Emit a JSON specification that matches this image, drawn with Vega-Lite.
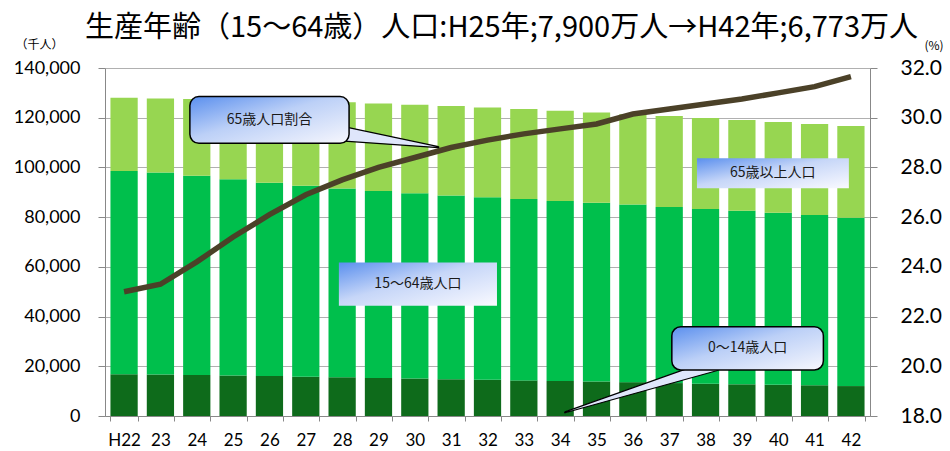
{
  "$schema": "https://vega.github.io/schema/vega-lite/v6.json",
  "width": 765,
  "height": 348,
  "autosize": "none",
  "padding": {"left": 105, "top": 68, "right": 80, "bottom": 35},
  "background": "white",
  "title": {
    "text": "生産年齢（15～64歳）人口:H25年;7,900万人→H42年;6,773万人",
    "font": "Noto Sans CJK JP",
    "fontSize": 29,
    "fontWeight": "normal",
    "color": "black",
    "anchor": "middle",
    "dx": 14,
    "offset": -5
  },
  "config": {
    "view": {"stroke": null},
    "axis": {"domainColor": "#888888", "tickColor": "#888888", "gridColor": "#b0b0b0", "labelColor": "black", "labelFont": "Lato", "titleColor": "black"}
  },
  "datasets": {
    "pop": [
      {"year": "H22", "group": "0～14歳人口", "o": 1, "v": 16839},
      {"year": "H22", "group": "15～64歳人口", "o": 2, "v": 81735},
      {"year": "H22", "group": "65歳以上人口", "o": 3, "v": 29484},
      {"year": "23", "group": "0～14歳人口", "o": 1, "v": 16685},
      {"year": "23", "group": "15～64歳人口", "o": 2, "v": 81303},
      {"year": "23", "group": "65歳以上人口", "o": 3, "v": 29764},
      {"year": "24", "group": "0～14歳人口", "o": 1, "v": 16493},
      {"year": "24", "group": "15～64歳人口", "o": 2, "v": 80173},
      {"year": "24", "group": "65歳以上人口", "o": 3, "v": 30831},
      {"year": "25", "group": "0～14歳人口", "o": 1, "v": 16281},
      {"year": "25", "group": "15～64歳人口", "o": 2, "v": 79010},
      {"year": "25", "group": "65歳以上人口", "o": 3, "v": 31947},
      {"year": "26", "group": "0～14歳人口", "o": 1, "v": 16067},
      {"year": "26", "group": "15～64歳人口", "o": 2, "v": 77803},
      {"year": "26", "group": "65歳以上人口", "o": 3, "v": 33080},
      {"year": "27", "group": "0～14歳人口", "o": 1, "v": 15827},
      {"year": "27", "group": "15～64歳人口", "o": 2, "v": 76818},
      {"year": "27", "group": "65歳以上人口", "o": 3, "v": 33952},
      {"year": "28", "group": "0～14歳人口", "o": 1, "v": 15574},
      {"year": "28", "group": "15～64歳人口", "o": 2, "v": 75979},
      {"year": "28", "group": "65歳以上人口", "o": 3, "v": 34640},
      {"year": "29", "group": "0～14歳人口", "o": 1, "v": 15311},
      {"year": "29", "group": "15～64歳人口", "o": 2, "v": 75245},
      {"year": "29", "group": "65歳以上人口", "o": 3, "v": 35183},
      {"year": "30", "group": "0～14歳人口", "o": 1, "v": 15056},
      {"year": "30", "group": "15～64歳人口", "o": 2, "v": 74584},
      {"year": "30", "group": "65歳以上人口", "o": 3, "v": 35596},
      {"year": "31", "group": "0～14歳人口", "o": 1, "v": 14804},
      {"year": "31", "group": "15～64歳人口", "o": 2, "v": 73950},
      {"year": "31", "group": "65歳以上人口", "o": 3, "v": 35935},
      {"year": "32", "group": "0～14歳人口", "o": 1, "v": 14568},
      {"year": "32", "group": "15～64歳人口", "o": 2, "v": 73408},
      {"year": "32", "group": "65歳以上人口", "o": 3, "v": 36124},
      {"year": "33", "group": "0～14歳人口", "o": 1, "v": 14318},
      {"year": "33", "group": "15～64歳人口", "o": 2, "v": 72946},
      {"year": "33", "group": "65歳以上人口", "o": 3, "v": 36210},
      {"year": "34", "group": "0～14歳人口", "o": 1, "v": 14081},
      {"year": "34", "group": "15～64歳人口", "o": 2, "v": 72461},
      {"year": "34", "group": "65歳以上人口", "o": 3, "v": 36271},
      {"year": "35", "group": "0～14歳人口", "o": 1, "v": 13848},
      {"year": "35", "group": "15～64歳人口", "o": 2, "v": 71954},
      {"year": "35", "group": "65歳以上人口", "o": 3, "v": 36320},
      {"year": "36", "group": "0～14歳人口", "o": 1, "v": 13614},
      {"year": "36", "group": "15～64歳人口", "o": 2, "v": 71430},
      {"year": "36", "group": "65歳以上人口", "o": 3, "v": 36359},
      {"year": "37", "group": "0～14歳人口", "o": 1, "v": 13240},
      {"year": "37", "group": "15～64歳人口", "o": 2, "v": 70845},
      {"year": "37", "group": "65歳以上人口", "o": 3, "v": 36573},
      {"year": "38", "group": "0～14歳人口", "o": 1, "v": 12986},
      {"year": "38", "group": "15～64歳人口", "o": 2, "v": 70314},
      {"year": "38", "group": "65歳以上人口", "o": 3, "v": 36591},
      {"year": "39", "group": "0～14歳人口", "o": 1, "v": 12755},
      {"year": "39", "group": "15～64歳人口", "o": 2, "v": 69774},
      {"year": "39", "group": "65歳以上人口", "o": 3, "v": 36573},
      {"year": "40", "group": "0～14歳人口", "o": 1, "v": 12549},
      {"year": "40", "group": "15～64歳人口", "o": 2, "v": 69183},
      {"year": "40", "group": "65歳以上人口", "o": 3, "v": 36561},
      {"year": "41", "group": "0～14歳人口", "o": 1, "v": 12371},
      {"year": "41", "group": "15～64歳人口", "o": 2, "v": 68459},
      {"year": "41", "group": "65歳以上人口", "o": 3, "v": 36635},
      {"year": "42", "group": "0～14歳人口", "o": 1, "v": 12039},
      {"year": "42", "group": "15～64歳人口", "o": 2, "v": 67730},
      {"year": "42", "group": "65歳以上人口", "o": 3, "v": 36849}
    ],
    "ratio": [
      {"year": "H22", "r": 23.0}, {"year": "23", "r": 23.3}, {"year": "24", "r": 24.2},
      {"year": "25", "r": 25.2}, {"year": "26", "r": 26.1}, {"year": "27", "r": 26.9},
      {"year": "28", "r": 27.5}, {"year": "29", "r": 28.0}, {"year": "30", "r": 28.4},
      {"year": "31", "r": 28.8}, {"year": "32", "r": 29.1}, {"year": "33", "r": 29.35},
      {"year": "34", "r": 29.55}, {"year": "35", "r": 29.75}, {"year": "36", "r": 30.15},
      {"year": "37", "r": 30.35}, {"year": "38", "r": 30.55}, {"year": "39", "r": 30.75},
      {"year": "40", "r": 31.0}, {"year": "41", "r": 31.25}, {"year": "42", "r": 31.65}
    ],
    "notes": [
      {"label": "65歳人口割合", "kind": "round", "x": 2.33, "x2": 6.7, "y": 128500, "y2": 109700, "tx": 4.515, "ty": 119100},
      {"label": "65歳以上人口", "kind": "flat", "x": 16.25, "x2": 20.42, "y": 103700, "y2": 91600, "tx": 18.33, "ty": 97650},
      {"label": "15～64歳人口", "kind": "flat", "x": 6.42, "x2": 10.76, "y": 61800, "y2": 44400, "tx": 8.59, "ty": 53100},
      {"label": "0～14歳人口", "kind": "round", "x": 15.56, "x2": 19.72, "y": 35900, "y2": 18500, "tx": 17.64, "ty": 27200}
    ],
    "ptr": [
      {"id": "a", "x": 6.4, "y": 113800, "s": 15},
      {"id": "a", "x": 9.15, "y": 108200, "s": 1},
      {"id": "b", "x": 16.74, "y": 20500, "s": 12},
      {"id": "b", "x": 12.63, "y": 1490, "s": 1}
    ]
  },
  "layer": [
    {
      "data": {"name": "pop"},
      "mark": {"type": "bar"},
      "encoding": {
        "x": {
          "field": "year", "type": "ordinal", "sort": null,
          "scale": {"type": "band", "paddingInner": 0.25, "paddingOuter": 0.15},
          "axis": {"title": null, "labelAngle": 0, "labelFontSize": 17, "tickBand": "extent", "tickSize": 5, "labelPadding": 11}
        },
        "y": {
          "field": "v", "type": "quantitative", "stack": "zero",
          "scale": {"domain": [0, 140000], "nice": false},
          "axis": {
            "orient": "left", "values": [0, 20000, 40000, 60000, 80000, 100000, 120000, 140000],
            "format": ",.0f", "grid": true, "labelFontSize": 18, "tickSize": 7, "labelPadding": 18,
            "title": "（千人）", "titleAngle": 0, "titleFont": "Noto Sans CJK JP", "titleFontSize": 12,
            "titleFontWeight": "normal", "titleX": -90, "titleY": -24, "titleAlign": "left", "titleBaseline": "middle"
          }
        },
        "color": {
          "field": "group", "type": "nominal", "legend": null,
          "scale": {"domain": ["0～14歳人口", "15～64歳人口", "65歳以上人口"], "range": ["#0e6b1b", "#00bf4c", "#97d651"]}
        },
        "order": {"field": "o", "type": "quantitative"}
      }
    },
    {
      "data": {"name": "ratio"},
      "mark": {"type": "line", "color": "#4b4128", "strokeWidth": 5.5},
      "encoding": {
        "x": {"field": "year", "type": "ordinal", "sort": null, "scale": {"type": "point", "padding": 0.525}, "axis": null},
        "y": {
          "field": "r", "type": "quantitative",
          "scale": {"domain": [18, 32], "nice": false},
          "axis": {
            "orient": "right", "values": [18, 20, 22, 24, 26, 28, 30, 32], "format": ".1f", "grid": false,
            "labelFontSize": 21, "tickSize": 7, "labelPadding": 23,
            "title": "(%)", "titleAngle": 0, "titleFont": "Noto Sans CJK JP", "titleFontSize": 12,
            "titleFontWeight": "normal", "titleX": 54, "titleY": -23, "titleAlign": "left", "titleBaseline": "middle"
          }
        }
      }
    },
    {
      "data": {"name": "ptr"},
      "mark": {"type": "trail", "fill": "#dfe6fb", "stroke": "black", "strokeWidth": 1.2},
      "encoding": {
        "x": {"field": "x", "type": "quantitative", "scale": {"domain": [0, 21], "nice": false, "zero": false}, "axis": null},
        "y": {"field": "y", "type": "quantitative", "scale": {"domain": [0, 140000], "nice": false}, "axis": null},
        "size": {"field": "s", "type": "quantitative", "scale": null},
        "detail": {"field": "id"}
      }
    },
    {
      "data": {"name": "notes"},
      "transform": [{"filter": "datum.kind == 'round'"}],
      "mark": {
        "type": "rect", "cornerRadius": 9, "stroke": "black", "strokeWidth": 1.5,
        "fill": {"gradient": "linear", "x1": 0, "y1": 0, "x2": 1, "y2": 1,
          "stops": [{"offset": 0, "color": "#5a8fee"}, {"offset": 0.45, "color": "#bcd0f7"}, {"offset": 1, "color": "#f7f7fd"}]}
      },
      "encoding": {
        "x": {"field": "x", "type": "quantitative", "scale": {"domain": [0, 21], "nice": false, "zero": false}, "axis": null},
        "x2": {"field": "x2"},
        "y": {"field": "y", "type": "quantitative", "scale": {"domain": [0, 140000], "nice": false}, "axis": null},
        "y2": {"field": "y2"}
      }
    },
    {
      "data": {"name": "notes"},
      "transform": [{"filter": "datum.kind == 'flat'"}],
      "mark": {
        "type": "rect",
        "fill": {"gradient": "linear", "x1": 0, "y1": 0, "x2": 1, "y2": 1,
          "stops": [{"offset": 0, "color": "#5a8fee"}, {"offset": 0.45, "color": "#c6d6f8"}, {"offset": 1, "color": "#fafaff"}]}
      },
      "encoding": {
        "x": {"field": "x", "type": "quantitative", "scale": {"domain": [0, 21], "nice": false, "zero": false}, "axis": null},
        "x2": {"field": "x2"},
        "y": {"field": "y", "type": "quantitative", "scale": {"domain": [0, 140000], "nice": false}, "axis": null},
        "y2": {"field": "y2"}
      }
    },
    {
      "data": {"name": "notes"},
      "mark": {"type": "text", "font": "Noto Sans CJK JP", "fontSize": 14, "color": "#1a1a1a", "align": "center", "baseline": "middle"},
      "encoding": {
        "x": {"field": "tx", "type": "quantitative", "scale": {"domain": [0, 21], "nice": false, "zero": false}, "axis": null},
        "y": {"field": "ty", "type": "quantitative", "scale": {"domain": [0, 140000], "nice": false}, "axis": null},
        "text": {"field": "label"}
      }
    }
  ],
  "resolve": {"scale": {"x": "independent", "y": "independent"}, "axis": {"x": "independent", "y": "independent"}}
}
